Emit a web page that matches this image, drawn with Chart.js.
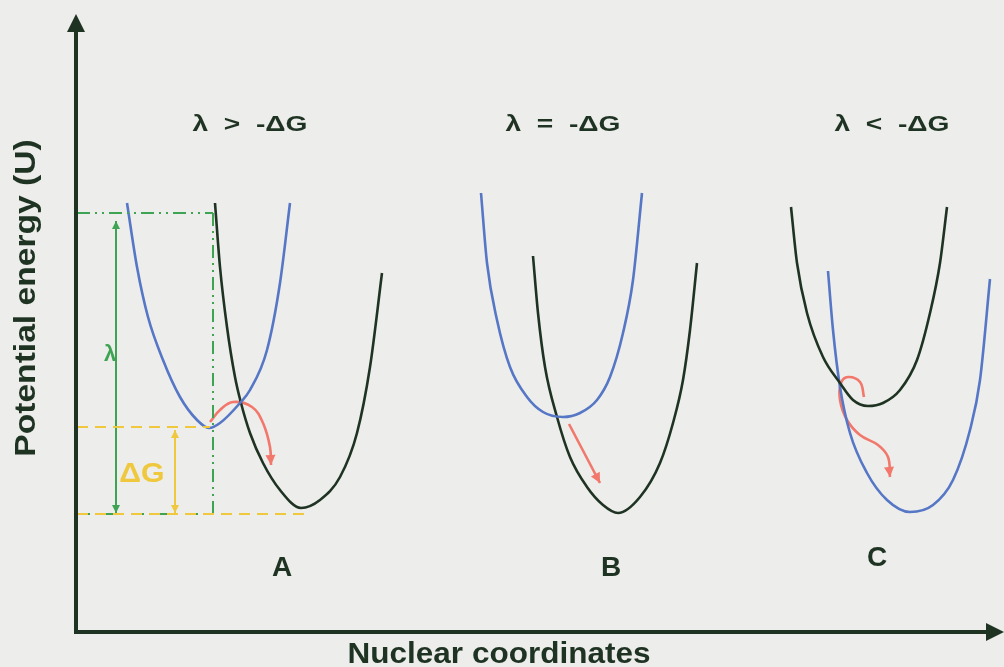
<!DOCTYPE html>
<html>
<head>
<meta charset="utf-8">
<script src="https://cdn.jsdelivr.net/npm/chart.js@4"></script>
<style>
  html, body { margin: 0; padding: 0; background: #ededeb; }
  #wrap { width: 1004px; height: 667px; }
</style>
</head>
<body>
<div id="wrap"><canvas id="marcus"></canvas></div>
<script>
// [nuclear coordinate, potential energy U]
const reactA = [[50,427],[60,363],[71,313],[86,270],[103,233],[120,210],[132,202],[143,207],[163,227],[173,240],[190,280],[203,347],[213,427]];
const productA = [[138,427],[143,363],[150,303],[158,253],[164,227],[173,197],[186,167],[203,140],[224,122],[243,130],[263,153],[280,197],[293,263],[305,357]];
const reactB = [[404,437],[410,367],[420,310],[433,263],[450,233],[466,218],[486,213],[503,217],[520,230],[533,253],[546,297],[556,350],[565,437]];
const productB = [[456,374],[461,317],[468,263],[480,213],[493,173],[510,143],[526,125],[541,117],[563,133],[583,167],[596,207],[606,250],[613,300],[620,367]];
const upperC = [[714,423],[720,367],[730,317],[746,273],[763,247],[776,230],[791,224],[806,227],[823,240],[840,270],[853,317],[863,367],[870,423]];
const lowerC = [[751,359],[756,300],[763,243],[773,197],[790,157],[810,130],[833,118],[856,125],[876,150],[893,200],[903,250],[913,351]];

// electron transfer paths
const pathA = [[133,208],[143,220],[156,228],[175,223],[186,207],[193,183],[194,165]];
const pathB = [[492,206],[523,147]];
const pathC = [[787,233],[783,248],[771,253],[764,247],[763,230],[770,210],[783,195],[801,185],[811,173],[813,153]];

// energy levels used for lambda and deltaG
const levelTop = 417, levelReact = 203, levelBottom = 116;
const lambdaX = 39, deltaGX = 98, dropX = 136;

const panelTitles = ["λ  >  -ΔG", "λ  =  -ΔG", "λ  <  -ΔG"];
const panelLetters = ["A", "B", "C"];
const titleX = [173, 486, 815];
const letterX = [205, 534, 800];

const toXY = (arr) => arr.map(([x, y]) => ({ x, y }));

const DARK = "#1f3323", BLUE = "#5677c6", RED = "#f2786c", GREEN = "#3ea352", YELLOW = "#efc83e";
const FONT = '"Liberation Sans", Arial, sans-serif';

const curve = (pts, color) => ({
  data: toXY(pts), borderColor: color, borderWidth: 2.6,
  cubicInterpolationMode: "monotone", pointRadius: 0,
});
const path = (pts, extra) => Object.assign({
  data: toXY(pts), borderColor: RED, borderWidth: 2.6, tension: 0.4, pointRadius: 0, arrowEnd: 10,
}, extra);
const guide = (pts, color, dash) => ({
  data: toXY(pts), borderColor: color, borderWidth: 2, borderDash: dash, pointRadius: 0, tension: 0,
});

const dashDot = [13, 5, 2, 5, 2, 5];
const dashed = [11, 7];

const datasets = [
  guide([[0, levelBottom], [233, levelBottom]], YELLOW, dashed),
  guide([[0, levelTop], [dropX, levelTop]], GREEN, dashDot),
  guide([[dropX, levelTop], [dropX, levelBottom]], GREEN, dashDot),
  guide([[0, levelBottom], [dropX, levelBottom]], GREEN, [13, 14]),
  guide([[0, levelReact], [133, levelReact]], YELLOW, dashed),
  Object.assign(guide([[lambdaX, levelTop - 8], [lambdaX, levelBottom + 1]], GREEN, []), { arrowEnd: 8, arrowStart: 8 }),
  Object.assign(guide([[deltaGX, levelReact - 3], [deltaGX, levelBottom + 1]], YELLOW, []), { arrowEnd: 8, arrowStart: 8 }),
  curve(reactA, BLUE),
  curve(productA, DARK),
  curve(reactB, BLUE),
  curve(productB, DARK),
  curve(upperC, DARK),
  curve(lowerC, BLUE),
  path(pathA),
  path(pathB, { tension: 0 }),
  path(pathC),
];

function head(ctx, x, y, ang, size, color) {
  ctx.save();
  ctx.translate(x, y);
  ctx.rotate(ang);
  ctx.beginPath();
  ctx.moveTo(0, 0);
  ctx.lineTo(-size, size * 0.5);
  ctx.lineTo(-size, -size * 0.5);
  ctx.closePath();
  ctx.fillStyle = color;
  ctx.fill();
  ctx.restore();
}

function label(ctx, text, x, y, size, sx, color, rot) {
  ctx.save();
  ctx.translate(x, y);
  if (rot) ctx.rotate(rot);
  ctx.scale(sx, 1);
  ctx.font = "bold " + size + "px " + FONT;
  ctx.fillStyle = color;
  ctx.textAlign = "center";
  ctx.textBaseline = "middle";
  ctx.fillText(text, 0, 0);
  ctx.restore();
}

const decor = {
  id: "decor",
  beforeDraw(chart) {
    const { ctx, width, height } = chart;
    ctx.save();
    ctx.fillStyle = "#ededeb";
    ctx.fillRect(0, 0, width, height);
    ctx.restore();
  },
  afterDatasetsDraw(chart) {
    const { ctx, scales: { x, y } } = chart;
    // arrow heads
    chart.data.datasets.forEach((ds, i) => {
      const pts = chart.getDatasetMeta(i).data;
      const n = pts.length;
      if (ds.arrowEnd) {
        const p = pts[n - 1];
        let q = pts[n - 2];
        if (p.cp1x !== undefined && Math.hypot(p.cp1x - p.x, p.cp1y - p.y) > 0.5) q = { x: p.cp1x, y: p.cp1y };
        head(ctx, p.x, p.y, Math.atan2(p.y - q.y, p.x - q.x), ds.arrowEnd, ds.borderColor);
      }
      if (ds.arrowStart) {
        const p = pts[0], q = pts[1];
        head(ctx, p.x, p.y, Math.atan2(p.y - q.y, p.x - q.x), ds.arrowStart, ds.borderColor);
      }
    });

    // axes with arrows
    const ox = x.getPixelForValue(0) - 1, oy = y.getPixelForValue(0) + 2;
    ctx.save();
    ctx.strokeStyle = DARK;
    ctx.lineWidth = 4;
    ctx.beginPath();
    ctx.moveTo(ox, oy + 2);
    ctx.lineTo(ox, 28);
    ctx.moveTo(ox - 2, oy);
    ctx.lineTo(990, oy);
    ctx.stroke();
    ctx.restore();
    head(ctx, ox, 14, -Math.PI / 2, 18, DARK);
    head(ctx, 1004, oy, 0, 18, DARK);

    // texts
    panelTitles.forEach((t, i) => label(ctx, t, x.getPixelForValue(titleX[i]), 125, 22, 1.28, DARK));
    panelLetters.forEach((t, i) => label(ctx, t, x.getPixelForValue(letterX[i]), [568, 568, 558][i], 28, 1, DARK));
    label(ctx, "Nuclear coordinates", 499, 655, 30, 1.05, DARK);
    label(ctx, "Potential energy (U)", 27, 298, 30, 1.12, DARK, -Math.PI / 2);
    label(ctx, "λ", x.getPixelForValue(33), y.getPixelForValue(275), 22, 1, GREEN);
    label(ctx, "ΔG", x.getPixelForValue(65), y.getPixelForValue(156), 28, 1.08, YELLOW);
  },
};

new Chart(document.getElementById("marcus").getContext("2d"), {
  type: "line",
  data: { datasets },
  options: {
    responsive: true,
    maintainAspectRatio: false,
    animation: false,
    layout: { padding: { left: 77, right: 0, top: 0, bottom: 37 } },
    plugins: { legend: { display: false }, tooltip: { enabled: false } },
    scales: {
      x: { type: "linear", min: 0, max: 927, display: false },
      y: { type: "linear", min: 0, max: 630, display: false },
    },
  },
  plugins: [decor],
});
</script>
</body>
</html>
